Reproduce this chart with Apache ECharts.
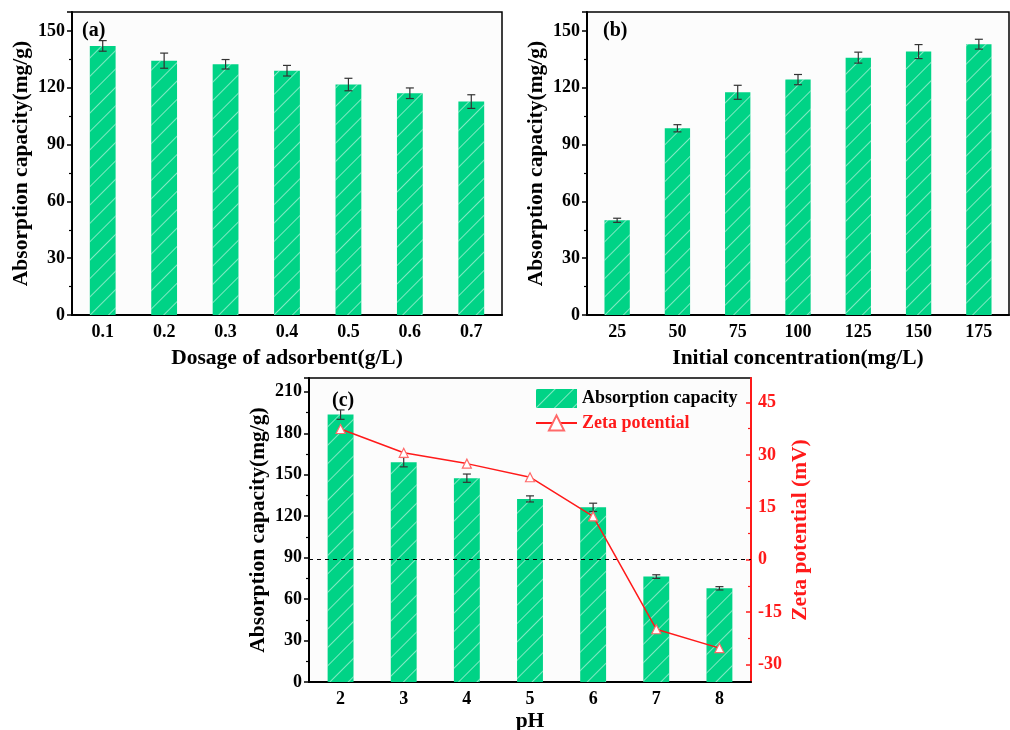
<!DOCTYPE html>
<html>
<head>
<meta charset="utf-8">
<script src="https://cdn.jsdelivr.net/npm/echarts@6/dist/echarts.min.js"></script>
<style>
  html, body { margin: 0; padding: 0; background: #fff; }
  #chart { width: 1010px; height: 730px; }
</style>
</head>
<body>
<div id="chart"></div>
<script>
// (a) dosage of adsorbent
const dosage = ['0.1', '0.2', '0.3', '0.4', '0.5', '0.6', '0.7'];
const dosageCap = [142.1, 134.3, 132.4, 129.0, 121.7, 117.1, 112.7];
const dosageErr = [2.8, 4.0, 2.5, 2.8, 3.3, 2.8, 3.6];

// (b) initial concentration
const conc = ['25', '50', '75', '100', '125', '150', '175'];
const concCap = [50.0, 98.6, 117.6, 124.3, 135.9, 139.1, 143.0];
const concErr = [1.1, 1.9, 3.7, 2.7, 2.9, 3.7, 2.6];

// (c) pH
const ph = ['2', '3', '4', '5', '6', '7', '8'];
const phCap = [193.5, 159.1, 147.5, 132.5, 126.4, 76.3, 67.8];
const phErr = [3.4, 3.4, 3.0, 2.2, 3.0, 1.3, 1.2];
const zeta = [37.4, 30.6, 27.5, 23.6, 12.4, -19.9, -25.3];

const zetaTicks = [-30, -15, 0, 15, 30, 45];
const zetaMinor = [-22.5, -7.5, 7.5, 22.5, 37.5];

const FONT = '"Liberation Serif", "Times New Roman", serif';
const GREEN = '#00d386';
const RED = '#ff1a1a';

// white "/" hatching on the bars
const hatch = {
  symbol: 'rect',
  symbolSize: 1,
  color: 'rgba(255,255,255,0.5)',
  dashArrayX: [1, 0],
  dashArrayY: [1, 12],
  rotation: -Math.PI / 4
};

const tickFont = { color: '#000', fontSize: 18, fontWeight: 'bold', fontFamily: FONT };
const nameFont = { color: '#000', fontSize: 21.5, fontWeight: 'bold', fontFamily: FONT };

function errData(vals, errs) {
  return vals.map((v, i) => [i, v - errs[i], v + errs[i]]);
}

function renderErr(params, api) {
  const x = api.value(0);
  const top = api.coord([x, api.value(2)]);
  const bot = api.coord([x, api.value(1)]);
  const w = 4;
  const st = { stroke: '#333', lineWidth: 1.2 };
  return {
    type: 'group',
    children: [
      { type: 'line', shape: { x1: top[0], y1: top[1], x2: bot[0], y2: bot[1] }, style: st },
      { type: 'line', shape: { x1: top[0] - w, y1: top[1], x2: top[0] + w, y2: top[1] }, style: st },
      { type: 'line', shape: { x1: bot[0] - w, y1: bot[1], x2: bot[0] + w, y2: bot[1] }, style: st }
    ]
  };
}

function catAxis(grid, data, name, nameGap) {
  return {
    type: 'category', gridIndex: grid, data: data,
    name: name, nameLocation: 'middle', nameGap: nameGap, nameTextStyle: nameFont,
    axisLine: { lineStyle: { color: '#000', width: 2 } },
    axisTick: { alignWithLabel: true, inside: true, length: 5, lineStyle: { color: '#000', width: 1.5 } },
    axisLabel: Object.assign({ margin: 8 }, tickFont),
    splitLine: { show: false }
  };
}

function minorCatAxis(grid, data) {
  return {
    type: 'category', gridIndex: grid, data: data, position: 'bottom',
    axisLine: { show: false },
    axisTick: { alignWithLabel: false, inside: true, length: 3, lineStyle: { color: '#000', width: 1.2 } },
    axisLabel: { show: false },
    splitLine: { show: false }
  };
}

function capAxis(grid, max, nameGap) {
  return {
    type: 'value', gridIndex: grid, min: 0, max: max, interval: 30,
    name: 'Absorption capacity(mg/g)', nameLocation: 'middle', nameGap: nameGap,
    nameTextStyle: nameFont,
    axisLine: { show: true, lineStyle: { color: '#000', width: 2 } },
    axisTick: { show: true, length: 5, lineStyle: { color: '#000', width: 1.5 } },
    minorTick: { show: true, splitNumber: 2, length: 3, lineStyle: { color: '#000', width: 1.2 } },
    axisLabel: Object.assign({ margin: 7, showMaxLabel: false }, tickFont),
    splitLine: { show: false }
  };
}

const gridBase = {
  show: true, borderColor: '#000', borderWidth: 1.5, backgroundColor: '#fcfcfc',
  containLabel: false, outerBoundsMode: 'none'
};

const option = {
  animation: false,
  backgroundColor: '#fff',
  title: [
    { text: '(a)', left: 77, top: 16, textStyle: { fontSize: 20, fontWeight: 'bold', fontFamily: FONT, color: '#000' } },
    { text: '(b)', left: 598, top: 16, textStyle: { fontSize: 20, fontWeight: 'bold', fontFamily: FONT, color: '#000' } },
    { text: '(c)', left: 327, top: 386, textStyle: { fontSize: 20, fontWeight: 'bold', fontFamily: FONT, color: '#000' } }
  ],
  legend: {
    left: 535, top: 389, orient: 'vertical',
    itemWidth: 41, itemHeight: 19, itemGap: 6, padding: 0,
    textStyle: { fontSize: 18, fontWeight: 'bold', fontFamily: FONT, color: '#000' },
    data: [
      { name: 'Absorption capacity', icon: 'rect' },
      { name: 'Zeta potential', textStyle: { color: RED } }
    ]
  },
  grid: [
    Object.assign({ left: 72, top: 12, width: 430, height: 303 }, gridBase),
    Object.assign({ left: 587, top: 12, width: 422, height: 303 }, gridBase),
    Object.assign({ left: 309, top: 378, width: 442, height: 304 }, gridBase)
  ],
  xAxis: [
    catAxis(0, dosage, 'Dosage of adsorbent(g/L)', 32),
    minorCatAxis(0, dosage),
    catAxis(1, conc, 'Initial concentration(mg/L)', 32),
    minorCatAxis(1, conc),
    catAxis(2, ph, 'pH', 28),
    minorCatAxis(2, ph)
  ],
  yAxis: [
    capAxis(0, 160, 40),
    capAxis(1, 160, 40),
    capAxis(2, 220, 40),
    {
      type: 'value', gridIndex: 2, position: 'right', min: -35, max: 52,
      name: 'Zeta potential (mV)', nameLocation: 'middle', nameGap: 38,
      nameTextStyle: Object.assign({}, nameFont, { color: RED }),
      axisLine: { show: true, lineStyle: { color: RED, width: 2 } },
      axisTick: { show: true, inside: true, length: 5, customValues: zetaTicks, lineStyle: { color: RED, width: 1.5 } },
      axisLabel: Object.assign({}, tickFont, { color: RED, margin: 7, customValues: zetaTicks }),
      splitLine: { show: false }
    },
    {
      type: 'value', gridIndex: 2, position: 'right', min: -35, max: 52,
      axisLine: { show: false },
      axisTick: { show: true, inside: true, length: 3, customValues: zetaMinor, lineStyle: { color: RED, width: 1.2 } },
      axisLabel: { show: false, customValues: zetaMinor },
      splitLine: { show: false }
    }
  ],
  series: [
    {
      name: 'Absorption capacity', type: 'bar', xAxisIndex: 0, yAxisIndex: 0,
      data: dosageCap, barWidth: '42%', itemStyle: { color: GREEN, decal: hatch }
    },
    {
      type: 'custom', xAxisIndex: 0, yAxisIndex: 0, renderItem: renderErr,
      data: errData(dosageCap, dosageErr), z: 5, silent: true
    },
    {
      name: 'Absorption capacity', type: 'bar', xAxisIndex: 2, yAxisIndex: 1,
      data: concCap, barWidth: '42%', itemStyle: { color: GREEN, decal: hatch }
    },
    {
      type: 'custom', xAxisIndex: 2, yAxisIndex: 1, renderItem: renderErr,
      data: errData(concCap, concErr), z: 5, silent: true
    },
    {
      name: 'Absorption capacity', type: 'bar', xAxisIndex: 4, yAxisIndex: 2,
      data: phCap, barWidth: '41%', itemStyle: { color: GREEN, decal: hatch }
    },
    {
      type: 'custom', xAxisIndex: 4, yAxisIndex: 2, renderItem: renderErr,
      data: errData(phCap, phErr), z: 5, silent: true
    },
    {
      name: 'Zeta potential', type: 'line', xAxisIndex: 4, yAxisIndex: 3,
      data: zeta, z: 6,
      symbol: 'triangle', symbolSize: 9, showSymbol: true,
      lineStyle: { color: RED, width: 1.5 },
      itemStyle: { color: '#fff', borderColor: '#ff6a6a', borderWidth: 1.2 },
      markLine: {
        silent: true, symbol: 'none', label: { show: false },
        lineStyle: { color: '#000', type: [4, 4], width: 1 },
        data: [{ yAxis: 0 }]
      }
    }
  ]
};

const chart = echarts.init(document.getElementById('chart'), null, { renderer: 'canvas' });
chart.setOption(option);
</script>
</body>
</html>
